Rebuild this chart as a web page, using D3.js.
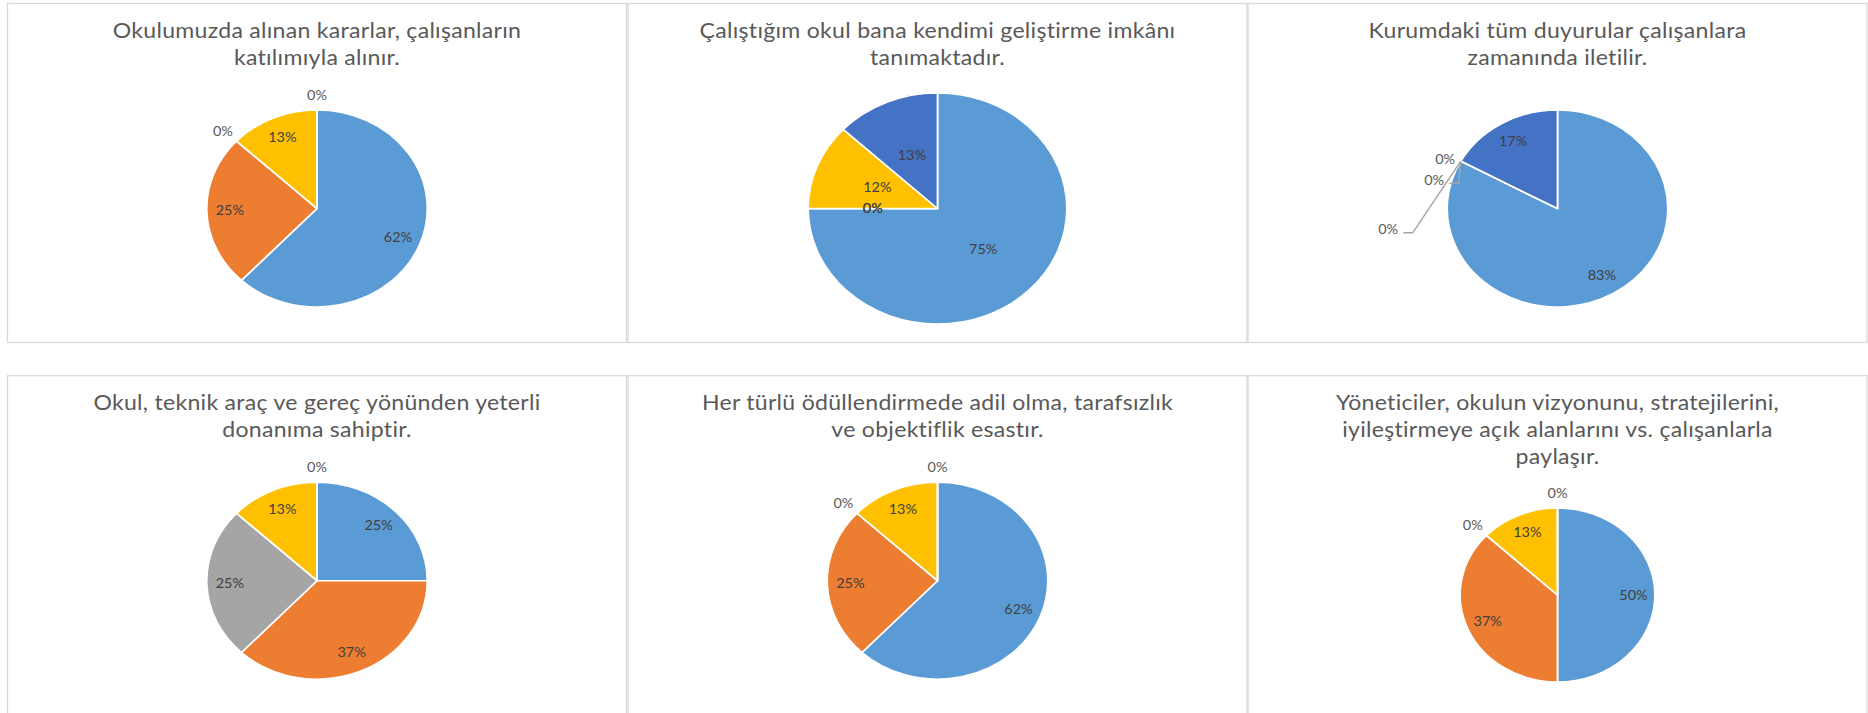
<!DOCTYPE html>
<html>
<head>
<meta charset="utf-8">
<script src="https://cdn.jsdelivr.net/npm/d3@7"></script>
<style>
  body { margin: 0; background: #fff; }
  svg { display: block; }
  text { font-family: Lato, "Open Sans", sans-serif; }
</style>
</head>
<body>
<div id="chart"></div>
<script>
const width = 1868;
const height = 713;

// chart titles (one entry per line)
const titles = [
    ["Okulumuzda alınan kararlar, çalışanların", "katılımıyla alınır."],
    ["Çalıştığım okul bana kendimi geliştirme imkânı", "tanımaktadır."],
    ["Kurumdaki tüm duyurular çalışanlara", "zamanında iletilir."],
    ["Okul, teknik araç ve gereç yönünden yeterli", "donanıma sahiptir."],
    ["Her türlü ödüllendirmede adil olma, tarafsızlık", "ve objektiflik esastır."],
    ["Yöneticiler, okulun vizyonunu, stratejilerini,", "iyileştirmeye açık alanlarını vs. çalışanlarla", "paylaşır."]
];

// percentages per slice, in series order (5 answer options)
const values1 = [62, 25, 0, 13, 0];
const values2 = [75, 0, 0, 12, 13];
const values3 = [83, 0, 0, 0, 17];
const values4 = [25, 37, 25, 13, 0];
const values5 = [62, 25, 0, 13, 0];
const values6 = [50, 37, 0, 13, 0];
const allValues = [values1, values2, values3, values4, values5, values6];

const sliceColors = ["#5B9BD5", "#ED7D31", "#A5A5A5", "#FFC000", "#4472C4"];

// the picture is a bit wider than tall, everything is squeezed through this
const stretch = 1.12;

const panelW = 619, panelH = 339;
const colX = [7.5, 628, 1248];
const rowY = [3.5, 375.7];

const titleSize = 20.6, titleTop = 34.5, titleLead = 27;
const labelSize = 12.9;

const pieLayout = [
    {r: 98.5, cy: 205, labelR: 0.79},
    {r: 115.5, cy: 205, labelR: 0.5, zeroInside: true},
    {r: 98.5, cy: 205, labelR: 0.79,
        callouts: [{dx: -14, dy: -1.7, line: false}, {dx: -1.9, dy: 22.3, line: true}, {dx: -43, dy: 71.7, line: true}]},
    {r: 98.5, cy: 205, labelR: 0.79},
    {r: 98.5, cy: 205, labelR: 0.79},
    {r: 87, cy: 219.3, labelR: 0.78}
];

const svg = d3.select("#chart").append("svg").attr("width", width).attr("height", height);

const pie = d3.pie().sort(null).value(d => d);

allValues.forEach((vals, i) => {
    const x0 = colX[i % 3];
    const y0 = rowY[Math.floor(i / 3)];
    const L = pieLayout[i];

    svg.append("rect")
        .attr("x", x0).attr("y", y0)
        .attr("width", panelW).attr("height", panelH)
        .attr("fill", "#fff")
        .attr("stroke", "#D9D9D9")
        .attr("stroke-width", 1.3);

    const g = svg.append("g").attr("transform", `translate(${x0},${y0}) scale(${stretch},1)`);
    const cx = panelW / stretch / 2;

    const title = g.append("text")
        .attr("text-anchor", "middle")
        .attr("fill", "#595959")
        .attr("font-size", titleSize)
        .attr("letter-spacing", 0.25);
    titles[i].forEach((line, k) => {
        title.append("tspan")
            .attr("x", cx)
            .attr("y", titleTop + k * titleLead)
            .text(line);
    });

    const pg = g.append("g").attr("transform", `translate(${cx},${L.cy})`);
    const arcs = pie(vals);
    const arc = d3.arc().innerRadius(0).outerRadius(L.r);
    const labelArc = d3.arc().innerRadius(L.r * L.labelR).outerRadius(L.r * L.labelR);

    pg.selectAll("path")
        .data(arcs)
        .join("path")
        .attr("d", arc)
        .attr("fill", (d, j) => sliceColors[j])
        .attr("stroke", "#fff")
        .attr("stroke-width", 1.6)
        .attr("stroke-linejoin", "round");

    let zeroCount = 0;
    arcs.forEach((a, j) => {
        const txt = vals[j] + "%";
        const mid = (a.startAngle + a.endAngle) / 2;
        const ux = Math.sin(mid), uy = -Math.cos(mid);
        let x, y, fill = "#404040";

        if (vals[j] > 0 || L.zeroInside) {
            [x, y] = labelArc.centroid(a);
        } else if (L.callouts) {
            // several empty slices at one angle: stack them down with leader lines
            const c = L.callouts[zeroCount++];
            const ex = ux * L.r, ey = uy * L.r;
            fill = "#595959";
            if (!c.line) {
                x = ex + c.dx; y = ey + c.dy;
            } else {
                const bx = ex + c.dx, by = ey + c.dy;
                pg.append("path")
                    .attr("d", `M${ex},${ey}L${bx},${by}L${bx - 8.4},${by}`)
                    .attr("fill", "none")
                    .attr("stroke", "#A6A6A6")
                    .attr("stroke-width", 1.3);
                x = bx - 8.4 - 13.5; y = by - 3.3;
            }
        } else {
            const gap = 8;
            x = ux * (L.r + gap + 8.8);
            y = uy * (L.r + gap + 6.5);
            fill = "#595959";
        }

        pg.append("text")
            .attr("x", x).attr("y", y)
            .attr("dy", "0.35em")
            .attr("text-anchor", "middle")
            .attr("fill", fill)
            .attr("font-size", labelSize)
            .text(txt);
    });
});
</script>
</body>
</html>
